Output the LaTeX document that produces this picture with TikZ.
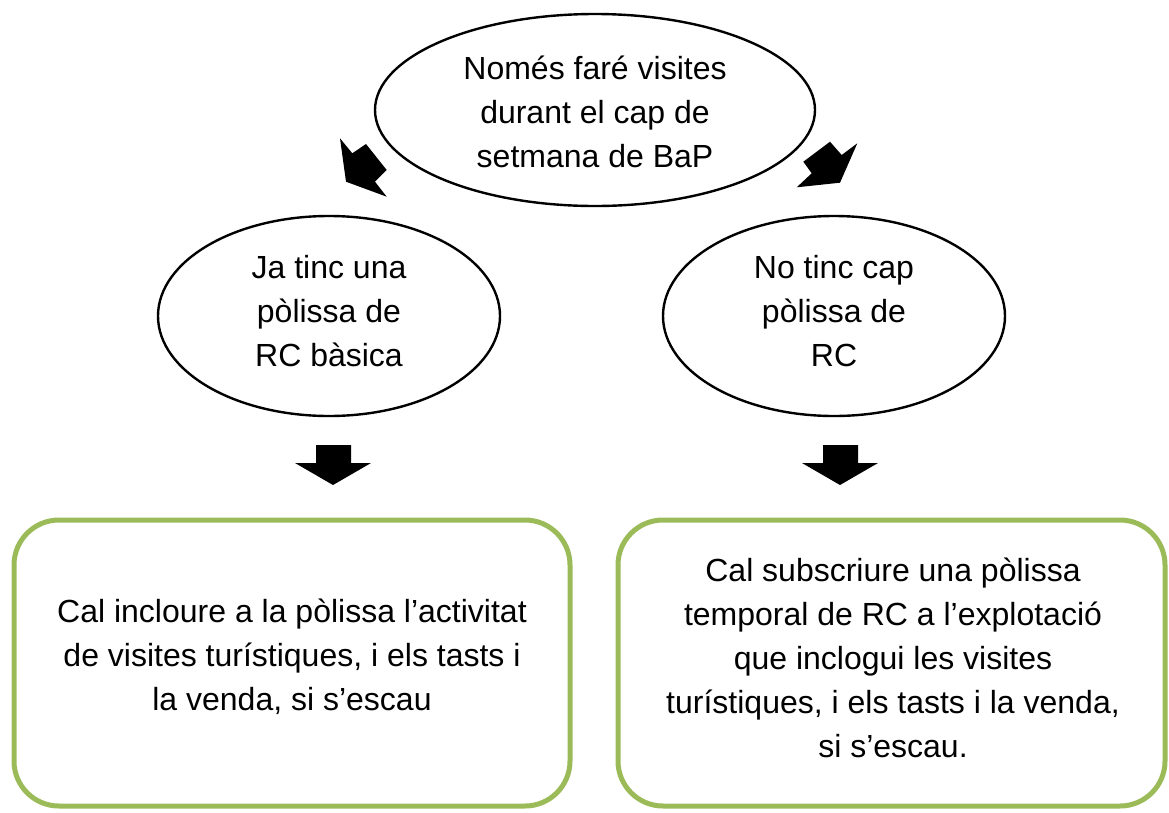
\documentclass[tikz,border=0pt]{standalone}
\usepackage{fontspec}
\setmainfont{Liberation Sans}
\usetikzlibrary{shapes.geometric}
\definecolor{boxgreen}{RGB}{155,187,89}
\begin{document}
\begin{tikzpicture}[x=1pt,y=-1pt,
  oval/.style={draw=black,line width=2.4pt,ellipse,inner sep=0pt},
  greenbox/.style={draw=boxgreen,line width=5pt,rounded corners=45pt,rectangle,inner sep=0pt},
  txt/.style={align=center,inner sep=0pt,font=\fontsize{32}{44}\selectfont,anchor=base},
  blockarrow/.style={fill=black}]
\useasboundingbox (0,0) rectangle (1169,812);
% shapes
\node[oval,minimum width=440pt,minimum height=192pt] (top) at (595,110) {};
\node[oval,minimum width=342pt,minimum height=200pt] (left) at (329,316) {};
\node[oval,minimum width=342pt,minimum height=200pt] (right) at (834,316) {};
\node[greenbox,minimum width=556pt,minimum height=286pt] (lbox) at (292,663) {};
\node[greenbox,minimum width=547pt,minimum height=286pt] (rbox) at (891.5,663) {};
% texts
\node[txt] (toptext) at (595,167) {Només faré visites\\durant el cap de\\setmana de BaP};
\node[txt] (lefttext) at (329,366) {Ja tinc una\\pòlissa de\\RC bàsica};
\node[txt] (righttext) at (834,366) {No tinc cap\\pòlissa de\\RC};
\node[txt] (lboxtext) at (292,710) {Cal incloure a la pòlissa l’activitat\\de visites turístiques, i els tasts i\\la venda, si s’escau};
\node[txt] (rboxtext) at (893,757) {Cal subscriure una pòlissa\\temporal de RC a l’explotació\\que inclogui les visites\\turístiques, i els tasts i la venda,\\si s’escau.};
% block arrows
\fill[blockarrow] (346,181.7) -- (340,138.3) -- (352.3,153.3) -- (366,144) -- (386.7,170) -- (375,181.7) -- (386.7,196.7) -- cycle;
\fill[blockarrow] (830,141.7) -- (841.7,155) -- (857.3,143.3) -- (840,182.7) -- (796.7,187.3) -- (811.7,173.3) -- (803.3,161.7) -- cycle;
\fill[blockarrow] (316,445) -- (351,445) -- (351,463) -- (371,463) -- (333,485) -- (295,463) -- (316,463) -- cycle;
\fill[blockarrow] (823,445) -- (858,445) -- (858,463) -- (878,463) -- (840,485) -- (802,463) -- (823,463) -- cycle;
\end{tikzpicture}
\end{document}
